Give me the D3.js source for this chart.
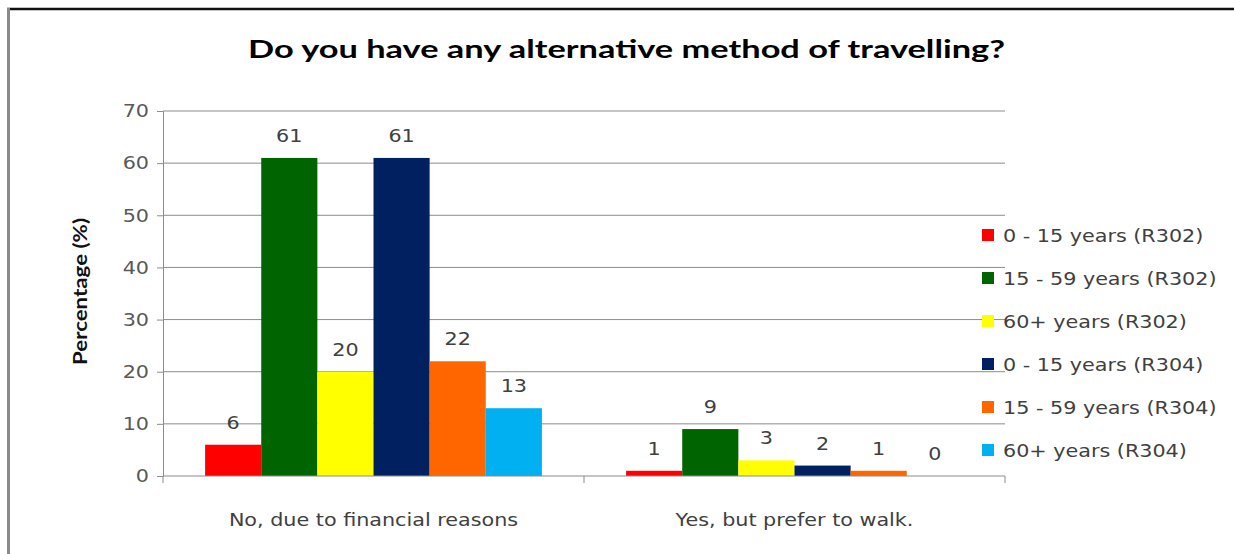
<!DOCTYPE html>
<html>
<head>
<meta charset="utf-8">
<script src="https://cdn.jsdelivr.net/npm/d3@7"></script>
<style>
  body { margin: 0; background: #fff; }
  svg { display: block; font-family: "DejaVu Sans", Verdana, sans-serif; }
</style>
</head>
<body>
<svg id="chart" width="1234" height="554"></svg>
<script>
// data
const categories = ['No, due to financial reasons', 'Yes, but prefer to walk.'];
const seriesNames = [
  '0 - 15 years (R302)', '15 - 59 years (R302)', '60+ years (R302)',
  '0 - 15 years (R304)', '15 - 59 years (R304)', '60+ years (R304)'
];
const seriesColors = ['#ff0000', '#006400', '#ffff00', '#002060', '#ff6600', '#00b0f0'];
const financialValues = [6, 61, 20, 61, 22, 13];
const walkValues = [1, 9, 3, 2, 1, 0];
const yTicks = [0, 10, 20, 30, 40, 50, 60, 70];

const valuesByCategory = [financialValues, walkValues];

// the source picture is stretched sideways, widen the glyphs a bit
const STRETCH = 1.15;
function widen(sel) {
  sel.each(function() {
    const w = this.getComputedTextLength();
    d3.select(this)
      .attr('textLength', w * STRETCH)
      .attr('lengthAdjust', 'spacingAndGlyphs');
  });
}

const svg = d3.select('#chart');

// outer frame (only top + left edges show in the crop)
svg.append('line').attr('x1', 7).attr('x2', 1234).attr('y1', 9).attr('y2', 9)
  .attr('stroke', '#111').attr('stroke-width', 2.5);
svg.append('line').attr('x1', 8.5).attr('x2', 8.5).attr('y1', 8).attr('y2', 554)
  .attr('stroke', '#8a8a8a').attr('stroke-width', 3);

const plot = { left: 163, right: 1005, top: 111, bottom: 476 };

const x0 = d3.scaleBand()
  .domain(categories)
  .range([plot.left, plot.right])
  .paddingInner(0.2)
  .paddingOuter(0.1);

const x1 = d3.scaleBand()
  .domain(d3.range(seriesNames.length))
  .range([0, x0.bandwidth()]);

const y = d3.scaleLinear().domain([0, 70]).range([plot.bottom, plot.top]);

// title
svg.append('text')
  .attr('x', 248).attr('y', 58)
  .attr('font-family', 'Lato, "Open Sans", sans-serif')
  .attr('font-size', 25).attr('font-weight', 'bold').attr('fill', '#000')
  .attr('textLength', 757).attr('lengthAdjust', 'spacingAndGlyphs')
  .text('Do you have any alternative method of travelling?');

// gridlines
svg.append('g').selectAll('line')
  .data(yTicks.filter(d => d > 0))
  .enter().append('line')
  .attr('x1', plot.left).attr('x2', plot.right)
  .attr('y1', d => y(d)).attr('y2', d => y(d))
  .attr('stroke', '#8c8c8c').attr('stroke-width', 1);

// y axis
const yAxis = svg.append('g')
  .attr('transform', `translate(${plot.left},0)`)
  .call(d3.axisLeft(y).tickValues(yTicks).tickSize(6).tickPadding(8));
yAxis.select('.domain').attr('stroke', '#8c8c8c');
yAxis.selectAll('.tick line').attr('stroke', '#8c8c8c');
yAxis.selectAll('text')
  .attr('font-size', 18).attr('fill', '#595959')
  .attr('font-family', '"DejaVu Sans", Verdana, sans-serif')
  .call(widen);

// y axis title
svg.append('text')
  .attr('transform', 'translate(87,365) rotate(-90)')
  .attr('font-family', 'Lato, "Open Sans", sans-serif')
  .attr('font-size', 18).attr('font-weight', 'bold').attr('fill', '#111')
  .attr('textLength', 147).attr('lengthAdjust', 'spacingAndGlyphs')
  .text('Percentage (%)');

// bars
const groups = svg.append('g').selectAll('g')
  .data(categories)
  .enter().append('g')
  .attr('transform', d => `translate(${x0(d)},0)`);

groups.selectAll('rect')
  .data((d, i) => valuesByCategory[i].map((v, j) => ({ v, j })))
  .enter().append('rect')
  .attr('x', d => x1(d.j))
  .attr('y', d => y(d.v))
  .attr('width', x1.bandwidth())
  .attr('height', d => plot.bottom - y(d.v))
  .attr('fill', d => seriesColors[d.j]);

groups.selectAll('text')
  .data((d, i) => valuesByCategory[i].map((v, j) => ({ v, j })))
  .enter().append('text')
  .attr('x', d => x1(d.j) + x1.bandwidth() / 2)
  .attr('y', d => y(d.v) - 16)
  .attr('text-anchor', 'middle')
  .attr('font-size', 18).attr('fill', '#404040')
  .text(d => d.v)
  .call(widen);

// x axis
const xAxis = svg.append('g')
  .attr('transform', `translate(0,${plot.bottom})`);
xAxis.append('line')
  .attr('x1', plot.left).attr('x2', plot.right)
  .attr('stroke', '#8c8c8c');
xAxis.selectAll('.sep')
  .data([plot.left, x0(categories[1]) - x0.step() * x0.paddingInner() / 2, plot.right])
  .enter().append('line')
  .attr('class', 'sep')
  .attr('x1', d => d).attr('x2', d => d)
  .attr('y1', 0).attr('y2', 7)
  .attr('stroke', '#8c8c8c');
xAxis.selectAll('text')
  .data(categories)
  .enter().append('text')
  .attr('x', d => x0(d) + x0.bandwidth() / 2)
  .attr('y', 50)
  .attr('text-anchor', 'middle')
  .attr('font-size', 18).attr('fill', '#404040')
  .text(d => d)
  .call(widen);

// legend
const legend = svg.append('g').attr('transform', 'translate(982,235)');
const items = legend.selectAll('g')
  .data(seriesNames)
  .enter().append('g')
  .attr('transform', (d, i) => `translate(0,${i * 43})`);
items.append('rect')
  .attr('x', 0).attr('y', -6).attr('width', 12).attr('height', 12)
  .attr('fill', (d, i) => seriesColors[i]);
items.append('text')
  .attr('x', 21).attr('y', 7)
  .attr('font-size', 18).attr('fill', '#404040')
  .text(d => d)
  .call(widen);
</script>
</body>
</html>
